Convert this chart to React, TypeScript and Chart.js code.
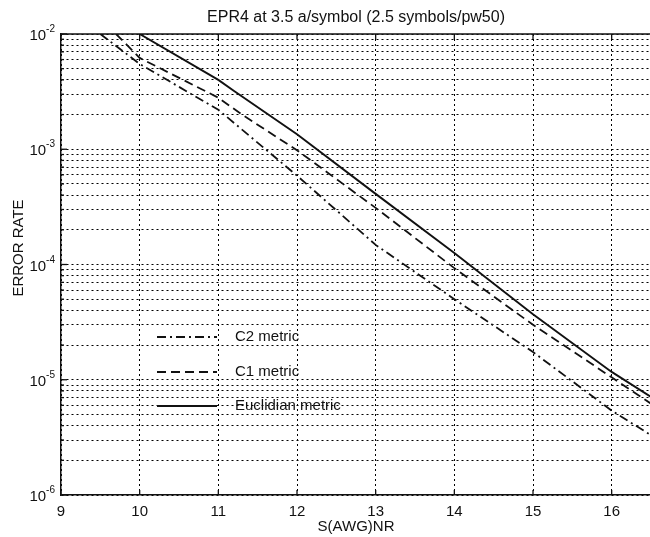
import React, { useEffect, useRef } from "react";
import { Chart, registerables } from "chart.js";

Chart.register(...registerables);

const titleText = "EPR4 at 3.5 a/symbol (2.5 symbols/pw50)";
const xTitle = "S(AWG)NR";
const yTitle = "ERROR RATE";

const xTicks = [9, 10, 11, 12, 13, 14, 15, 16];
const decades = [-6, -5, -4, -3, -2];

const euclidX = [10, 11, 11.2, 12, 13, 14, 15, 16, 16.5];
const euclidY = [1e-2, 4.0e-3, 3.2e-3, 1.35e-3, 4.1e-4, 1.26e-4, 3.7e-5, 1.17e-5, 7.1e-6];

const c1X = [9.7, 10, 11, 11.3, 12, 13, 14, 15, 16, 16.5];
const c1Y = [1e-2, 6.2e-3, 2.8e-3, 2.0e-3, 9.8e-4, 3.1e-4, 9.3e-5, 3.0e-5, 1.05e-5, 6.2e-6];

const c2X = [9.5, 10, 11, 12, 13, 14, 15, 16, 16.5];
const c2Y = [1e-2, 5.5e-3, 2.2e-3, 5.9e-4, 1.48e-4, 5.0e-5, 1.74e-5, 5.4e-6, 3.3e-6];

const legendLabels = ["C2 metric", "C1 metric", "Euclidian metric"];

const FONT = "'Liberation Sans', Arial, Helvetica, sans-serif";
const INK = "#111";

const toPts = (xs: number[], ys: number[]) => xs.map((x, i) => ({ x, y: ys[i] }));

const yTickValues: number[] = [];
decades.forEach((k) => {
  for (let m = 1; m <= 9; m++) {
    const v = m * Math.pow(10, k);
    if (k === -2 && m > 1) break;
    yTickValues.push(v);
  }
});

const dashes = [[9, 4, 2, 4], [9, 5], []];

const decorPlugin = {
  id: "decor",
  afterDraw(chart: any) {
    const { ctx, chartArea: a, scales } = chart;
    const xs = scales.x;
    const ys = scales.y;
    ctx.save();
    ctx.strokeStyle = INK;
    ctx.lineWidth = 1.5;
    ctx.setLineDash([]);
    ctx.beginPath();
    ctx.moveTo(a.left, a.top);
    ctx.lineTo(a.right, a.top);
    ctx.stroke();
    ctx.lineWidth = 1.3;
    xTicks.forEach((v) => {
      const px = xs.getPixelForValue(v);
      ctx.beginPath();
      ctx.moveTo(px, a.bottom);
      ctx.lineTo(px, a.bottom - 5);
      ctx.moveTo(px, a.top);
      ctx.lineTo(px, a.top + 5);
      ctx.stroke();
    });
    yTickValues.forEach((v) => {
      const py = ys.getPixelForValue(v);
      const major = Math.abs(Math.log10(v) - Math.round(Math.log10(v))) < 1e-9;
      ctx.beginPath();
      ctx.moveTo(a.left, py);
      ctx.lineTo(a.left + (major ? 6 : 3), py);
      ctx.stroke();
    });
    ctx.fillStyle = INK;
    ctx.font = `15px ${FONT}`;
    ctx.textAlign = "center";
    ctx.textBaseline = "middle";
    xTicks.forEach((v) => {
      ctx.fillText(String(v), xs.getPixelForValue(v), a.bottom + 17);
    });
    decades.forEach((k) => {
      const py = ys.getPixelForValue(Math.pow(10, k));
      const sup = String(k);
      ctx.font = `10px ${FONT}`;
      const sw = ctx.measureText(sup).width;
      const supRight = a.left - 6;
      ctx.textAlign = "left";
      ctx.textBaseline = "alphabetic";
      ctx.fillText(sup, supRight - sw, py - 2);
      ctx.font = `15px ${FONT}`;
      ctx.textAlign = "right";
      ctx.fillText("10", supRight - sw, py + 6);
    });
    const cx = (a.left + a.right) / 2;
    ctx.textAlign = "center";
    ctx.textBaseline = "middle";
    ctx.font = `16px ${FONT}`;
    ctx.fillText(titleText, cx, 18);
    ctx.font = `15px ${FONT}`;
    ctx.fillText(xTitle, cx, 527);
    ctx.save();
    ctx.translate(19, 248);
    ctx.rotate(-Math.PI / 2);
    ctx.fillText(yTitle, 0, 0);
    ctx.restore();
    const rows = [337, 372, 406];
    legendLabels.forEach((lab, i) => {
      const y = rows[i];
      ctx.strokeStyle = INK;
      ctx.lineWidth = 1.8;
      ctx.setLineDash(dashes[i]);
      ctx.beginPath();
      ctx.moveTo(157, y);
      ctx.lineTo(217, y);
      ctx.stroke();
      ctx.setLineDash([]);
      ctx.textAlign = "left";
      ctx.font = `15px ${FONT}`;
      ctx.fillText(lab, 235, y);
    });
    ctx.restore();
  },
};

export default function App() {
  const ref = useRef<HTMLCanvasElement>(null);
  useEffect(() => {
    if (!ref.current) return;
    const chart = new Chart(ref.current, {
      type: "line",
      data: {
        datasets: [
          {
            label: legendLabels[0],
            data: toPts(c2X, c2Y),
            borderColor: INK,
            borderWidth: 1.8,
            borderDash: dashes[0],
            pointRadius: 0,
            tension: 0,
          },
          {
            label: legendLabels[1],
            data: toPts(c1X, c1Y),
            borderColor: INK,
            borderWidth: 1.8,
            borderDash: dashes[1],
            pointRadius: 0,
            tension: 0,
          },
          {
            label: legendLabels[2],
            data: toPts(euclidX, euclidY),
            borderColor: INK,
            borderWidth: 1.9,
            pointRadius: 0,
            tension: 0,
          },
        ],
      },
      options: {
        animation: false,
        responsive: false,
        maintainAspectRatio: false,
        layout: { padding: { left: 61, top: 34, right: 9, bottom: 42 } },
        plugins: { legend: { display: false }, tooltip: { enabled: false }, title: { display: false } },
        scales: {
          x: {
            type: "linear",
            min: 9,
            max: 16.5,
            afterBuildTicks: (s: any) => {
              s.ticks = xTicks.map((v) => ({ value: v }));
            },
            ticks: { display: false },
            grid: { color: "#000", lineWidth: 1, drawTicks: false },
            border: { display: true, color: INK, width: 1.5, dash: [2, 3] },
          },
          y: {
            type: "logarithmic",
            min: 1e-6,
            max: 1e-2,
            afterBuildTicks: (s: any) => {
              s.ticks = yTickValues.map((v) => ({ value: v }));
            },
            ticks: { display: false },
            grid: { color: "#000", lineWidth: 1, drawTicks: false },
            border: { display: true, color: INK, width: 1.5, dash: [2, 3] },
          },
        },
      },
      plugins: [decorPlugin],
    });
    return () => chart.destroy();
  }, []);
  return (
    <div style={{ position: "fixed", left: 0, top: 0, width: 650, height: 537, overflow: "hidden", background: "#fff" }}>
      <canvas ref={ref} width={660} height={537} style={{ width: 660, height: 537, display: "block" }} />
    </div>
  );
}
